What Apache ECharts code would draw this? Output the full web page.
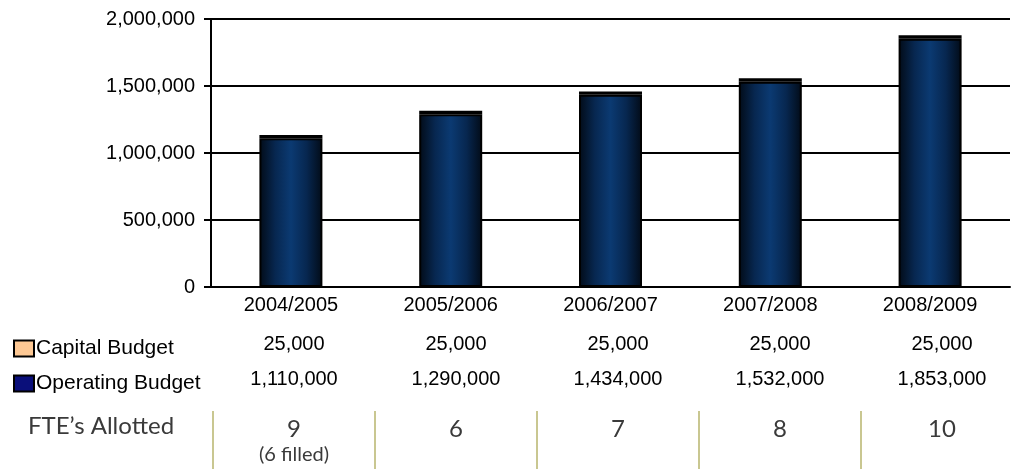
<!DOCTYPE html>
<html>
<head>
<meta charset="utf-8">
<script src="https://cdn.jsdelivr.net/npm/echarts@6/dist/echarts.min.js"></script>
<style>
html,body{margin:0;padding:0;background:#fff;}
#chart{width:1013px;height:469px;}
</style>
</head>
<body>
<div id="chart"></div>
<script>
const categories = ['2004/2005', '2005/2006', '2006/2007', '2007/2008', '2008/2009'];
const capitalBudget = [25000, 25000, 25000, 25000, 25000];
const operatingBudget = [1110000, 1290000, 1434000, 1532000, 1853000];
const fteAllotted = ['9', '6', '7', '8', '10'];
const fteNotes = ['(6 filled)', '', '', '', ''];
const yTicks = [0, 500000, 1000000, 1500000, 2000000];

const fmt = v => Number(v).toLocaleString('en-US');
const chart = echarts.init(document.getElementById('chart'));

const barGradient = new echarts.graphic.LinearGradient(0, 0, 1, 0, [
  {offset: 0, color: '#020b17'},
  {offset: 0.25, color: '#072750'},
  {offset: 0.5, color: '#0b3a72'},
  {offset: 0.75, color: '#072750'},
  {offset: 1, color: '#020b17'}
]);

const baseFont = 'Liberation Sans, Arial, sans-serif';
const fteFont = 'Lato, Noto Sans, sans-serif';

chart.setOption({
  animation: false,
  backgroundColor: '#fff',
  grid: [
    {left: 211, right: 3, top: 19, bottom: 182, containLabel: false, outerBoundsMode: 'none'},
    {left: 213, width: 810, top: 411, height: 58, containLabel: false, outerBoundsMode: 'none'}
  ],
  legend: {
    orient: 'vertical',
    left: 8,
    top: 333,
    itemWidth: 20,
    itemHeight: 16,
    itemGap: 14,
    icon: 'rect',
    selectedMode: false,
    textStyle: {fontFamily: baseFont, fontSize: 21, color: '#000', padding: [0, 0, 0, -3]},
    data: [
      {name: 'Capital Budget', itemStyle: {color: '#fdc894', borderColor: '#000', borderWidth: 2}},
      {name: 'Operating Budget', itemStyle: {color: '#0a0f7a', borderColor: '#000', borderWidth: 2}}
    ]
  },
  xAxis: [
    {
      type: 'category', gridIndex: 0, data: categories, position: 'bottom',
      axisLine: {lineStyle: {color: '#000', width: 2}},
      axisTick: {show: false},
      axisLabel: {fontFamily: baseFont, fontSize: 20, color: '#000', margin: 8}
    },
    {
      type: 'category', gridIndex: 1, data: categories, position: 'top', offset: 57,
      axisLine: {show: false}, axisTick: {show: false},
      axisLabel: {fontFamily: baseFont, fontSize: 20, color: '#000', margin: 0,
        formatter: (v, i) => fmt(capitalBudget[i])}
    },
    {
      type: 'category', gridIndex: 1, data: categories, position: 'top', offset: 22,
      axisLine: {show: false}, axisTick: {show: false},
      axisLabel: {fontFamily: baseFont, fontSize: 20, color: '#000', margin: 0,
        formatter: (v, i) => fmt(operatingBudget[i])}
    },
    {
      type: 'category', gridIndex: 1, data: categories, position: 'top',
      axisLine: {show: false}, axisTick: {show: false},
      splitLine: {show: true, lineStyle: {color: '#c9c791', width: 2}},
      axisLabel: {
        inside: true, margin: 4, verticalAlign: 'top', lineHeight: 28,
        fontFamily: fteFont, fontSize: 24, color: '#3a3a3a',
        formatter: (v, i) => fteNotes[i] ? fteAllotted[i] + '\n{n|' + fteNotes[i] + '}' : fteAllotted[i],
        rich: {n: {fontFamily: fteFont, fontSize: 20, color: '#3a3a3a', lineHeight: 24}}
      }
    }
  ],
  yAxis: [
    {
      type: 'value', gridIndex: 0, min: yTicks[0], max: yTicks[yTicks.length - 1], interval: 500000,
      axisLine: {show: true, lineStyle: {color: '#000', width: 2}},
      axisTick: {show: true, length: 7, lineStyle: {color: '#000', width: 2}},
      splitLine: {show: true, lineStyle: {color: '#000', width: 2}},
      axisLabel: {fontFamily: baseFont, fontSize: 20, color: '#000', margin: 16, formatter: v => fmt(v)}
    },
    {type: 'value', gridIndex: 1, show: false}
  ],
  graphic: [
    {type: 'text', left: 28, top: 414,
      style: {text: 'FTE\u2019s Allotted', fontFamily: fteFont, fontSize: 24, fill: '#3a3a3a'}}
  ],
  series: [
    {
      name: 'Operating Budget', type: 'bar', stack: 'b', xAxisIndex: 0, yAxisIndex: 0,
      data: operatingBudget, barWidth: 63,
      itemStyle: {color: barGradient, borderColor: '#000', borderWidth: 2}
    },
    {
      name: 'Capital Budget', type: 'bar', stack: 'b', xAxisIndex: 0, yAxisIndex: 0,
      data: capitalBudget, barWidth: 63,
      itemStyle: {color: '#0a0a0a', borderColor: '#000', borderWidth: 2}
    }
  ]
});
</script>
</body>
</html>
